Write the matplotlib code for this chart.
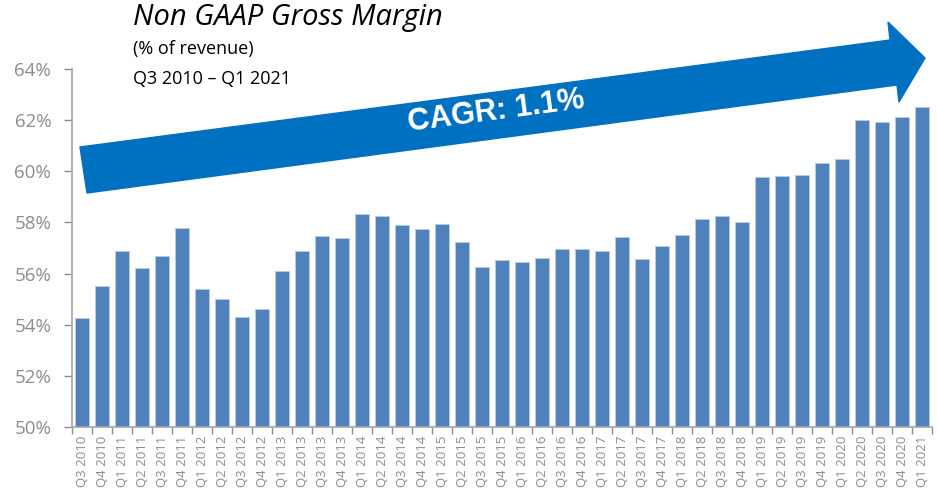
import matplotlib as mpl
from matplotlib import pyplot as plt
from matplotlib.patches import Polygon
import numpy as np

mpl.rcParams["font.family"] = ["Open Sans", "DejaVu Sans"]

quarters = ["Q3 2010", "Q4 2010",
            "Q1 2011", "Q2 2011", "Q3 2011", "Q4 2011",
            "Q1 2012", "Q2 2012", "Q3 2012", "Q4 2012",
            "Q1 2013", "Q2 2013", "Q3 2013", "Q4 2013",
            "Q1 2014", "Q2 2014", "Q3 2014", "Q4 2014",
            "Q1 2015", "Q2 2015", "Q3 2015", "Q4 2015",
            "Q1 2016", "Q2 2016", "Q3 2016", "Q4 2016",
            "Q1 2017", "Q2 2017", "Q3 2017", "Q4 2017",
            "Q1 2018", "Q2 2018", "Q3 2018", "Q4 2018",
            "Q1 2019", "Q2 2019", "Q3 2019", "Q4 2019",
            "Q1 2020", "Q2 2020", "Q3 2020", "Q4 2020",
            "Q1 2021"]
margin = [54.27, 55.5, 56.9, 56.2, 56.7, 57.8,
          55.4, 55.0, 54.3, 54.6,
          56.1, 56.9, 57.48, 57.4,
          58.34, 58.27, 57.9, 57.74,
          57.94, 57.23, 56.26, 56.55,
          56.46, 56.6, 56.97, 56.97,
          56.88, 57.44, 56.58, 57.09,
          57.52, 58.13, 58.24, 58.02,
          59.78, 59.82, 59.87, 60.31,
          60.5, 62.02, 61.91, 62.13,
          62.52]
yticks = [50, 52, 54, 56, 58, 60, 62, 64]

gray = "#8c8c8c"
fig = plt.figure(figsize=(9.38, 4.96), dpi=100)
ax = fig.add_axes([72/938, (496-427)/496, 860/938, 358/496])

x = np.arange(len(quarters))
ax.bar(x, margin, width=0.67, color="#4f81bd", edgecolor="#b9cde5", linewidth=0.6, zorder=2)

ax.set_xlim(-0.5, len(quarters) - 0.5)
ax.set_ylim(50, 64)
ax.set_yticks(yticks)
ax.set_yticklabels([f"{v}%" for v in yticks], fontsize=13.5, color=gray)
ax.set_xticks(x)
ax.set_xticklabels(quarters, rotation=90, fontsize=9.5, color=gray)
ax.set_xticks(np.arange(-0.5, len(quarters)), minor=True)
ax.tick_params(axis="x", which="major", length=0, pad=6)
ax.tick_params(axis="x", which="minor", length=5, color=gray, width=1)
ax.tick_params(axis="y", length=6, color=gray, width=1, pad=9)
for s in ["top", "right"]:
    ax.spines[s].set_visible(False)
for s in ["left", "bottom"]:
    ax.spines[s].set_color("#a6a6a6")
    ax.spines[s].set_linewidth(1.2)

# titles
fig.text(133/938, 1 - 18/496, "Non GAAP Gross Margin", fontsize=21, style="italic",
         va="center", ha="left")
fig.text(133/938, 1 - 49/496, "(% of revenue)", fontsize=13, va="center", ha="left")
fig.text(133/938, 1 - 79/496, "Q3 2010 \u2013 Q1 2021", fontsize=13, va="center", ha="left")

# CAGR arrow (figure pixel coords)
pts = [(80, 147), (890, 40), (888, 22), (925, 58), (899, 102), (897, 85), (87, 193)]
arrow = Polygon([(px/938, 1 - py/496) for px, py in pts], closed=True,
                transform=fig.transFigure, color="#0070c0", zorder=5)
fig.patches.append(arrow)
fig.text(496/938, 1 - 111/496, "CAGR: 1.1%", fontsize=22, fontweight="bold",
         family="Liberation Sans", color="white", rotation=7.5,
         ha="center", va="center", rotation_mode="anchor", zorder=6)

plt.savefig("out.png", dpi=100)
